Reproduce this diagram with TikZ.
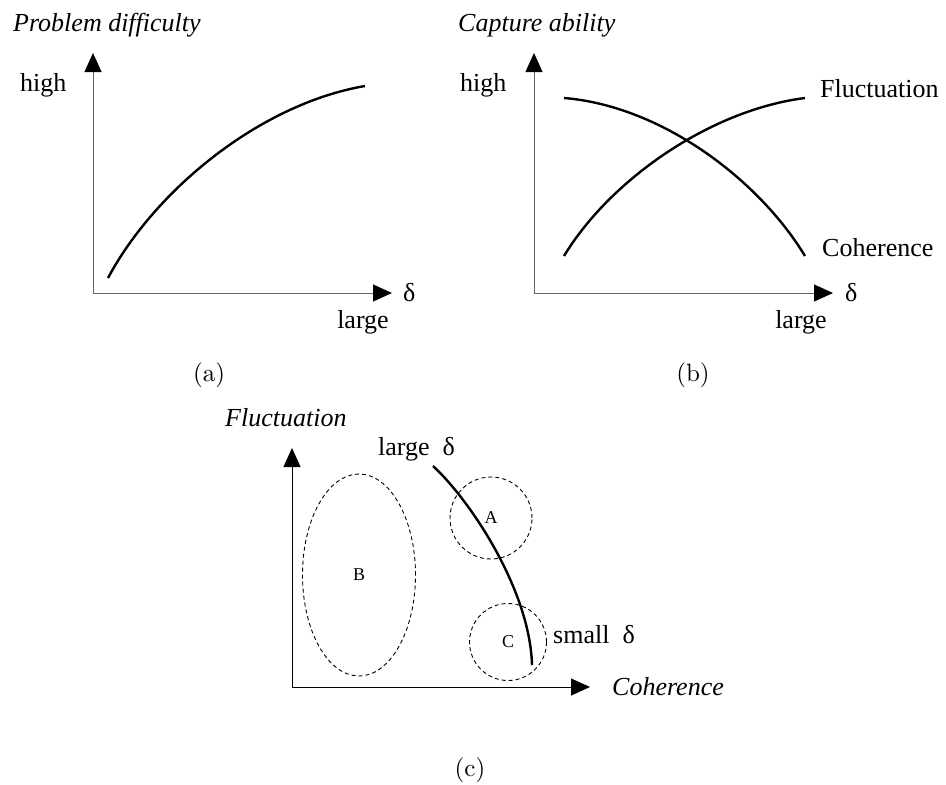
\documentclass[tikz,border=0pt]{standalone}
\usepackage{fontspec}
\newfontfamily\tnr{Liberation Serif}
\newfontfamily\lmten{lmroman10-regular}[Extension=.otf]
\usetikzlibrary{arrows.meta,positioning,shapes.geometric}

\begin{document}
\begin{tikzpicture}[x=1pt, y=-1pt,
    lbl/.style={font=\tnr\fontsize{26}{30}\selectfont, inner sep=0pt},
    ilbl/.style={font=\tnr\itshape\fontsize{26}{30}\selectfont, inner sep=0pt},
    tag/.style={font=\tnr\fontsize{18}{20}\selectfont, inner sep=0pt},
    subcap/.style={font=\lmten\fontsize{25}{30}\selectfont, inner sep=0pt},
    axis/.style={draw=black!60, line width=1pt, -{Triangle[length=19pt, width=17pt, color=black]}},
    axisc/.style={axis, draw=black},
    curve/.style={draw, line width=2.4pt},
    region/.style={draw, dash pattern=on 4pt off 3pt, line width=0.9pt, inner sep=0pt}]

    \useasboundingbox (0,0) rectangle (946,785);

    % (a)
    \coordinate (oa) at (93,293);
    \coordinate (ya) at (93,53);
    \coordinate (xa) at (392,293);
    \coordinate (pa0) at (108,278);
    \coordinate (pa1) at (365,86);

    \draw [axis] (oa) -- (ya);
    \draw [axis] (oa) -- (xa);
    \draw [curve] (pa0) .. controls (155,190) and (260,104) .. (pa1);

    \node [ilbl, anchor=base west] (titlea) at (13,31) {Problem difficulty};
    \node [lbl, anchor=base west] (higha) at (20,91) {high};
    \node [lbl, anchor=base west] (deltaa) at (403,301) {δ};
    \node [lbl, anchor=base] (largea) at (363,328) {large};
    \node [subcap] (capa) at (209,375) {(a)};

    % (b)
    \coordinate (ob) at (534,293);
    \coordinate (yb) at (534,53);
    \coordinate (xb) at (833,293);
    \coordinate (fb0) at (564,256);
    \coordinate (fb1) at (805,98);
    \coordinate (cb0) at (564,98);
    \coordinate (cb1) at (805,256);

    \draw [axis] (ob) -- (yb);
    \draw [axis] (ob) -- (xb);
    \draw [curve] (fb0) .. controls (610,180) and (710,110) .. (fb1);
    \draw [curve] (cb0) .. controls (662,106) and (759,180) .. (cb1);

    \node [ilbl, anchor=base west] (titleb) at (458,31) {Capture ability};
    \node [lbl, anchor=base west] (highb) at (460,91) {high};
    \node [lbl, anchor=base west] (deltab) at (845,301) {δ};
    \node [lbl, anchor=base] (largeb) at (801,328) {large};
    \node [lbl, anchor=base west] (fluctb) at (820,97) {Fluctuation};
    \node [lbl, anchor=base west] (cohb) at (822,256) {Coherence};
    \node [subcap] (capb) at (693,375) {(b)};

    % (c)
    \coordinate (oc) at (292,687);
    \coordinate (yc) at (292,448);
    \coordinate (xc) at (590,687);
    \coordinate (dc0) at (433,466);
    \coordinate (dc1) at (532,665);

    \draw [axisc] (oc) -- (yc);
    \draw [axisc] (oc) -- (xc);

    \node [region, ellipse, minimum width=113pt, minimum height=202pt, tag] (B) at (359,575) {B};
    \node [region, circle, minimum size=82pt, tag] (A) at (491,518) {A};
    \node [region, circle, minimum size=77pt, tag] (C) at (508,642) {C};

    \draw [curve] (dc0) .. controls (470,500) and (530,590) .. (dc1);

    \node [ilbl, anchor=base west] (fluctc) at (225,426) {Fluctuation};
    \node [ilbl, anchor=base west] (cohc) at (612,695) {Coherence};
    \node [lbl, anchor=base west] (larged) at (378,455) {large\enspace δ};
    \node [lbl, anchor=base west] (smalld) at (553,643) {small\enspace δ};
    \node [subcap] (capc) at (470,770) {(c)};
\end{tikzpicture}
\end{document}
